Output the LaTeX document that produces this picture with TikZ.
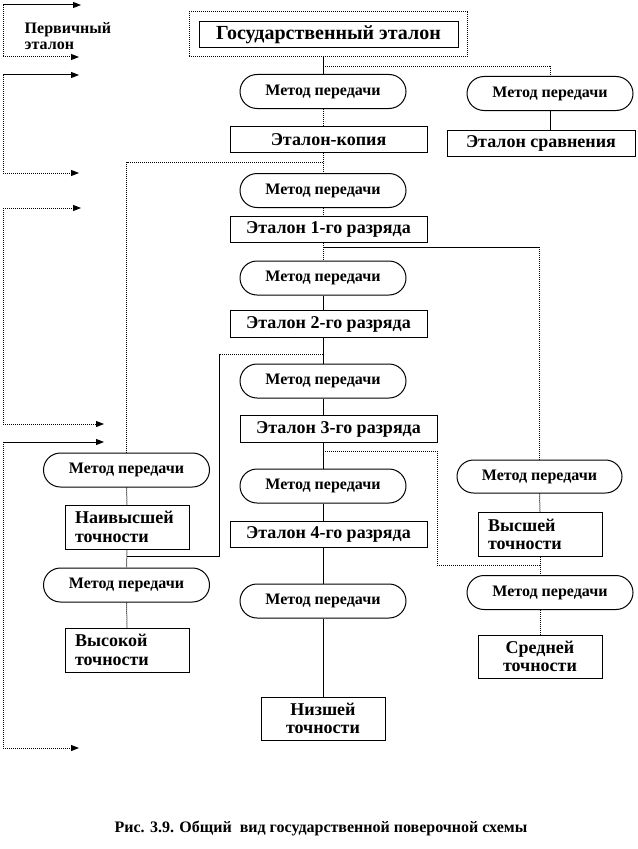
\documentclass[tikz,border=0pt]{standalone}
\usepackage{fontspec}
\setmainfont{Liberation Serif}
\usepackage{tikz}
\usetikzlibrary{arrows.meta,shapes.misc}
\tikzset{
Etalon/.style={
 draw=black,
 line width=0.75pt,
 rectangle,
 inner sep=0pt,
 minimum width=147.75pt,
 minimum height=20pt,
 font=\bfseries\fontsize{13.5}{15}\selectfont
 },
Tochnost/.style={
 draw=black,
 line width=0.75pt,
 rectangle,
 inner xsep=7.5pt,
 inner ysep=0pt,
 text width=78pt,
 minimum height=33pt,
 align=left,
 font=\bfseries\fontsize{13.5}{14}\selectfont
 },
Metod/.style={
 draw=black,
 line width=0.75pt,
 rounded rectangle,
 inner sep=0pt,
 minimum width=124.5pt,
 minimum height=25.5pt,
 font=\bfseries\fontsize{12}{13}\selectfont
 },
Liniya/.style={
 draw=black,
 line width=0.75pt
 },
Punktir/.style={
 draw=black,
 line width=0.75pt,
 dash pattern=on 0.75pt off 0.75pt
 },
Strelka/.style={
 -{Triangle[length=6pt,width=4.5pt]}
 }
}
\begin{document}
\begin{tikzpicture}[x=0.75pt,y=-0.75pt]
\useasboundingbox (0,0) rectangle (638,849);
\node[Punktir,rectangle,minimum width=208.5pt,minimum height=33.75pt] (gosframe) at (328,34.5) {};
\node[Etalon,minimum width=194.25pt,minimum height=19.5pt,font=\bfseries\fontsize{15}{16}\selectfont] (gos) at (328.5,35) {Государственный эталон};
\node[anchor=west,align=left,font=\bfseries\fontsize{12}{12}\selectfont] (perv) at (20,36) {Первичный\\эталон};
\node[Metod] (m1) at (323,91.5) {Метод передачи};
\node[Metod] (m1r) at (550,93.5) {Метод передачи};
\node[Etalon] (kopiya) at (328.5,139.5) {Эталон-копия};
\node[Etalon,minimum width=141pt] (sravn) at (541,143.5) {Эталон сравнения};
\node[Metod] (m2) at (323,190.5) {Метод передачи};
\node[Etalon] (r1) at (328.5,229.5) {Эталон 1-го разряда};
\node[Metod] (m3) at (323,278) {Метод передачи};
\node[Etalon] (r2) at (328.5,324) {Эталон 2-го разряда};
\node[Metod] (m4) at (323,381) {Метод передачи};
\node[Etalon] (r3) at (338.5,429) {Эталон 3-го разряда};
\node[Metod] (m5) at (323,486) {Метод передачи};
\node[Etalon] (r4) at (328.5,534.5) {Эталон 4-го разряда};
\node[Metod] (m6) at (323,601) {Метод передачи};
\node[Tochnost,align=center,minimum height=32.25pt] (nizsh) at (323,718.5) {Низшей\\точности};
\node[Metod] (ml1) at (126.5,470) {Метод передачи};
\node[Tochnost] (naiv) at (127,527) {Наивысшей\\точности};
\node[Metod] (ml2) at (126.5,585) {Метод передачи};
\node[Tochnost] (vysok) at (127,650) {Высокой\\точности};
\node[Metod,minimum width=123.75pt,minimum height=24.75pt] (mr2) at (539.5,476.5) {Метод передачи};
\node[Tochnost] (vyssh) at (540,534.5) {Высшей\\точности};
\node[Metod] (mr3) at (550,592.5) {Метод передачи};
\node[Tochnost,align=center,minimum height=32.25pt] (sredn) at (540,656.5) {Средней\\точности};
\node[font=\bfseries\fontsize{12}{13}\selectfont] (podpis) at (321,828) {Рис. 3.9. Общий \ вид государственной поверочной схемы};
\coordinate (v0) at (323,67);
\coordinate (v1) at (323,162);
\coordinate (v2) at (323,247);
\coordinate (v3) at (323,354);
\coordinate (v4) at (323,451);
\coordinate (u3) at (219,556);
\coordinate (u4) at (437,565);
\draw[Liniya] (m1.north |- gosframe.south) -- (m1.north);
\draw[Punktir] (v0) -| (m1r.north);
\draw[Liniya] (m1r.south) -- (m1r.south |- sravn.north);
\draw[Punktir] (m1.south) -- (m1.south |- kopiya.north);
\draw[Punktir] (m1.south |- kopiya.south) -- (m2.north);
\draw[Punktir] (v1) -| (ml1.north);
\draw[Punktir] (m2.south) -- (m2.south |- r1.north);
\draw[Punktir] (m2.south |- r1.south) -- (m3.north);
\draw[Liniya] (v2) -- (v2 -| mr2.north);
\draw[Punktir] (v2 -| mr2.north) -- (mr2.north);
\draw[Liniya] (m3.south) -- (m3.south |- r2.north);
\draw[Liniya] (m3.south |- r2.south) -- (m4.north);
\draw[Punktir] (v3) -- (v3 -| u3);
\draw[Liniya] (v3 -| u3) -- (u3) -- (u3 -| ml1.south);
\draw[Liniya] (m4.south) -- (m4.south |- r3.north);
\draw[Liniya] (m4.south |- r3.south) -- (m5.north);
\draw[Punktir] (v4) -| (u4) -- (u4 -| mr2.south);
\draw[Liniya] (m5.south) -- (m5.south |- r4.north);
\draw[Liniya] (m5.south |- r4.south) -- (m6.north);
\draw[Liniya] (m6.south) -- (nizsh.north);
\draw[Punktir] (ml1.south) -- (naiv.north);
\draw[Punktir] (naiv.south) -- (ml2.north);
\draw[Punktir] (ml2.south) -- (vysok.north);
\draw[Punktir] (mr2.south) -- (vyssh.north);
\draw[Punktir] (vyssh.south) -- (vyssh.south |- mr3.north);
\draw[Punktir] (vyssh.south |- mr3.south) -- (sredn.north);
\coordinate (L1a) at (3,5);
\coordinate (L1b) at (3,57);
\coordinate (L2a) at (3,75);
\coordinate (L2b) at (3,173);
\coordinate (L3a) at (3,208);
\coordinate (L3b) at (3,424);
\coordinate (L4a) at (3,442);
\coordinate (L4b) at (3,748);
\draw[Liniya,Strelka] (L1a) -- ++(78,0);
\draw[Punktir,Strelka] (L1a) -- (L1b) -- ++(76,0);
\draw[Liniya,Strelka] (L2a) -- ++(76,0);
\draw[Punktir,Strelka] (L2a) -- (L2b) -- ++(76,0);
\draw[Punktir,Strelka] (L3a) -- ++(78,0);
\draw[Punktir,Strelka] (L3a) -- (L3b) -- ++(101,0);
\draw[Liniya,Strelka] (L4a) -- ++(101,0);
\draw[Punktir,Strelka] (L4a) -- (L4b) -- ++(76,0);
\end{tikzpicture}
\end{document}
